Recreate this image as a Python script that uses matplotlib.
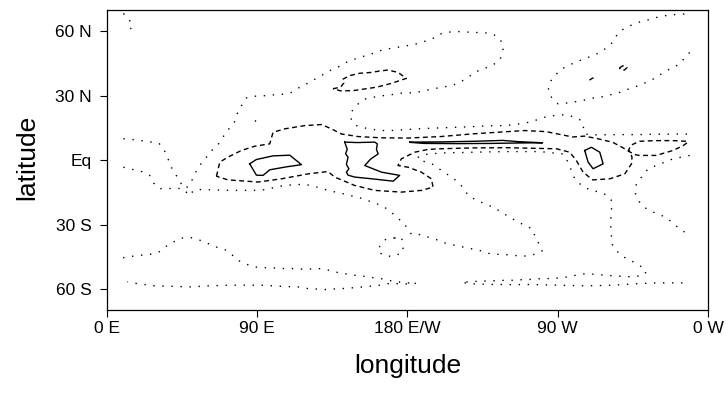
import matplotlib as mpl
mpl.use('Agg')
import matplotlib.pyplot as plt

plt.rcParams['font.family'] = ['Liberation Sans', 'DejaVu Sans']

# contour lines, (lon, lat) pairs, lon in 0..360 E
# --- lowest level (dotted) ---
dot_norway = [(10, 68.4), (13.8, 65), (15.4, 62), (13, 60.5), (10.5, 59.8)]

dot_warm_north = [(10, 10), (15.8, 9.6), (20.8, 9.1), (26.3, 8.5), (31.3, 7.9), (34.7, 4.2),
                  (36.7, 0.6), (38.7, -3.3), (41, -6.4), (43.7, -9.5), (45.5, -12.6), (47.5, -13),
                  (50.3, -11), (51.6, -8.2), (53.7, -5), (56.7, -1.4), (59.7, 1.4), (63, 4.6),
                  (67, 7.6), (70, 11.2), (73, 14.4), (76.4, 17.6), (78, 21.5), (80.6, 25.3),
                  (83.6, 29), (88.6, 29.8), (94, 30), (99.5, 30.4), (105, 30.7), (110, 31.3),
                  (114.4, 33.5), (119, 35.3), (127.5, 39), (133.5, 41.7), (138.3, 43.3),
                  (143.5, 45.6), (148.5, 47.1), (153.3, 48.3), (158.5, 49.5), (163.5, 51),
                  (168, 51.8), (174, 52.6), (179.4, 53.3), (184.4, 54), (189.4, 55.1),
                  (195.4, 56.8), (198, 58.4), (203, 59.5), (208.7, 60), (214, 59.8),
                  (219.8, 59.5), (225, 59.5), (230.3, 59), (234.3, 57.5), (237.3, 54.1),
                  (237.3, 51), (235.3, 46.4), (230.3, 44), (225.3, 42.5), (220.4, 41),
                  (216.4, 38.6), (211.4, 36.3), (206.4, 34.7), (200.4, 34), (195.4, 33.2),
                  (190.4, 32.4), (185.4, 31.6), (179.4, 31.2), (175, 31.2), (170.5, 30.5),
                  (164.8, 30), (159.5, 29.3), (154.5, 28.5), (150.5, 26.2), (148.5, 24.7),
                  (146, 21.9), (146.5, 18.5), (149.5, 16.1), (154.5, 15), (159.5, 14.3),
                  (165.5, 13.8), (170.5, 13.8), (176.4, 14.1), (182.4, 14.4), (188.4, 14.7),
                  (198.4, 15), (208.4, 15.3), (218.4, 15.6), (228.4, 16), (238.3, 16.1),
                  (244.3, 16.6), (253.3, 17.7), (262.3, 20), (268.3, 20.8), (274.3, 21.2),
                  (279.2, 20.3), (284.2, 18.5), (285.2, 16.1), (286.2, 12.2), (290.2, 11.8),
                  (298, 11.8), (308, 11.9), (318, 11.9), (328, 12.1), (338, 12.1), (349, 12.2)]

dot_warm_south = [(10, -3.3), (15.4, -4.3), (20.8, -5.3), (25.7, -7.1), (28.1, -10.7),
                  (31.7, -13.3), (36.7, -13.3), (41.7, -13), (46.5, -13.6), (49, -16.5),
                  (52.7, -13.8), (58, -13.7), (63.5, -13.8), (69, -14), (74.6, -14.1),
                  (80, -14.1), (85, -14.1), (90.4, -14.1), (95.8, -13.7), (101, -12.6),
                  (106.6, -11.8), (111.4, -11.5), (117.4, -11.3), (122.6, -11.8), (132.5, -14.1),
                  (143.5, -16), (153.5, -18), (159.5, -19.8), (164.5, -21.1), (168.4, -23),
                  (172.5, -25.7), (176.4, -28.5), (180, -31.5), (182.4, -34.6), (187.4, -34.7),
                  (193.4, -36.1), (198.4, -37.3), (203.4, -38.9), (208.4, -39.7), (213.4, -40.5),
                  (218.4, -41.3), (224.3, -42.3), (229.3, -43.6), (234.3, -43.9), (240.3, -44.1),
                  (245.3, -44.5), (250.3, -44.7), (256.3, -43.9), (260.7, -42.3), (259.3, -39.7),
                  (256.7, -36.1), (254.7, -32), (250.3, -30.4), (245.3, -28.4), (240.3, -26.2),
                  (236.3, -24.2), (231.3, -21.9), (226.3, -20.3), (221.3, -18.7), (216.4, -16.4),
                  (213.4, -12.9), (210.4, -10.2), (206.4, -7.9), (200.4, -4.8), (194.4, -1.5),
                  (188.4, -0.3), (186, 1.2), (190, 2.6), (199.4, 3.3), (219.4, 3.7), (239.4, 4),
                  (259.3, 4), (273.2, 2.9), (276.2, -0.9), (280.2, -8.7), (285.2, -12.4),
                  (290.3, -14.1), (295.2, -14.9), (299.8, -16.4), (302.6, -19.2), (302.2, -23.1),
                  (301.8, -27.3), (301.8, -31.4), (302.2, -35.4), (302.6, -39.2), (305.6, -42.5),
                  (308.6, -44.8), (313.6, -46.7), (318.2, -48.7), (322.6, -51), (322.6, -52.9),
                  (319, -54), (314, -54.4), (305, -54), (298, -53.6), (292, -53.2), (287, -52.9),
                  (281.2, -53.6), (276.3, -54.4), (271.3, -54.9), (266.3, -55.2), (260.3, -55.2),
                  (255.3, -55.6), (250.3, -55.6), (244.3, -56), (239.3, -56), (228, -56.3),
                  (218, -56.6), (212.5, -57), (218, -57.6), (228, -57.9), (239.3, -58),
                  (255.3, -58), (271.3, -58.3), (287.2, -58.6), (303.2, -58.3), (319.2, -57.5),
                  (331.1, -57.2), (347, -57.2), (349, -57.2)]

dot_s_atlantic = [(349, 2.2), (339, 0.6), (324.2, -4), (320.2, -7.9), (317.1, -11),
                  (316.6, -15.6), (319, -19.5), (322.2, -22.2), (327.2, -24.2), (332.1, -25.7),
                  (336.5, -27.7), (341.1, -30.8), (345, -33), (349.5, -35.3)]

dot_s_indian = [(9.8, -45.5), (15.4, -44.8), (20.8, -44.3), (26.1, -43.9), (31.3, -42.8),
                (35.7, -40.1), (40.1, -38.1), (45.1, -36.3), (50.3, -36.1), (55.7, -37.3),
                (60.7, -38.9), (65.7, -40.5), (70.7, -41.7), (74.6, -43.8), (78.6, -46.7),
                (83.6, -48.5), (88.6, -49.8), (94.2, -50.1), (99.6, -50.2), (104.6, -50.5),
                (110.6, -50.5), (116.6, -50.8), (120.6, -50.8), (126.6, -50.5), (131.5, -51),
                (136.5, -52.1), (142.5, -52.9), (147.5, -53.6), (153.5, -54.1), (158.5, -54.7),
                (163.5, -55.1), (168.4, -56), (174.4, -56.7), (179.4, -57.2), (185.4, -57.4),
                (179.4, -57.7), (174.4, -57.6), (168.4, -57.6), (163.5, -58.3), (153.5, -59.1),
                (142.5, -59.8), (130.5, -60.3), (119.6, -59.8), (114.6, -59.1), (103.6, -58.8),
                (92.6, -58.3), (82.6, -58.3), (72.6, -58.3), (60.7, -58.6), (50.7, -59.1),
                (38.7, -58.8), (28.7, -58.6), (22.8, -58), (17.8, -57.5), (12.4, -56.7)]

dot_new_zealand = [(172.4, -36.3), (167.4, -36.6), (163.5, -40.1), (162.5, -42.8), (167.4, -44.8),
                   (172.5, -44.7), (177.4, -42.8), (177.4, -39.2), (176.4, -35.8), (172.4, -36.3)]

dot_n_atlantic = [(349, 50.2), (346.1, 47.9), (343.1, 44.8), (337.1, 42.5), (332.1, 40.2),
                  (327.2, 37.8), (323.2, 36.3), (318.2, 34.7), (312.6, 33.2), (307.2, 31.6),
                  (302.2, 30.6), (297.2, 29.6), (291.7, 29), (286.2, 28), (281.2, 27.3),
                  (276.3, 26.7), (270.3, 26.2), (266.3, 29.3), (264.3, 32.4), (265.3, 36.3),
                  (268.3, 39.4), (272.3, 42.5), (278.2, 44.8), (283.2, 46.4), (288.2, 47.9),
                  (293.2, 49.4), (298.2, 51.8), (302.2, 54.4), (305.2, 58), (308.2, 60.6),
                  (313.2, 62.6), (318.2, 64.2), (323.7, 65.3), (329.1, 66.5), (334.1, 67.3),
                  (339.1, 67.8), (344.1, 68.1), (349, 68.1)]

dot_tibet = [(88.8, 18), (89.6, 18.8), (90.4, 18), (89.6, 17.4), (88.8, 18)]

# --- middle level (dashed) ---
dash_tropics = [(65.7, -7.5), (67.7, -0.9), (72.6, 1.4), (80.6, 4.5), (88.6, 6.5), (97.6, 7.6),
                (99.6, 13), (106.6, 14.6), (118.6, 16.1), (128.6, 16.6), (134.5, 14.6),
                (140.5, 12.2), (150.5, 11), (164.5, 10.4), (180, 10.3), (200, 11), (220, 12.3),
                (240, 13.3), (250, 13.8), (263, 13.3), (279, 10.8), (286, 11.2), (294, 10),
                (303, 8.3), (309, 5.8), (312, 4.4), (316, 2.6), (319, 2.2), (329, 2.2),
                (339, 4.5), (345, 6.7), (348, 8.4), (347, 8.8), (339, 9.1), (329, 9.1),
                (319, 8.8), (314, 7), (312.5, 4.8), (314.5, 1.5), (314.2, -1.7), (310.2, -6.4),
                (301.2, -8.7), (291, -9.2), (285.2, -5.6), (281.2, -0.2), (277.2, 3.7),
                (269.3, 5.3), (239.4, 5.8), (219, 5.7), (199.4, 5.3), (192.4, 5), (184.4, 3.7),
                (176.4, 0.6), (174.4, -2.5), (180.4, -3.3), (188.4, -5.6), (194.4, -8.7),
                (195.4, -12.6), (188.4, -14.1), (176.4, -14.9), (160.5, -14.1), (148.5, -11.8),
                (136.5, -7.9), (132.5, -5.3), (120.6, -6.4), (104.6, -8.7), (90.6, -10.2),
                (72.6, -9.2), (65.7, -7.5)]

dash_n_pacific = [(135.5, 33.3), (140, 34), (142, 36), (141.5, 37.8), (145.5, 39.4), (151.5, 40.5),
                  (158.5, 40.9), (163, 41.5), (168.4, 42), (174.4, 40.9), (179.4, 38.1),
                  (175, 37), (170.5, 35.8), (161.5, 34), (154.5, 33.2), (147.5, 32.4),
                  (140, 32.3), (135.5, 33.3)]

dash_n_atl_arc = [(289, 37.3), (291, 38.3), (293, 37.5)]

dash_n_atl_oval = [(307, 43), (309, 44), (311.5, 43.2), (310, 42), (307.5, 42.3), (307, 43)]

# --- highest level (solid) ---
solid_indian = [(85.6, -1.7), (89.6, 0.3), (99.6, 2), (109.6, 2.3), (116.6, -2.1), (107, -3.2),
                (97.6, -4.5), (93.6, -7.1), (89.6, -7), (85.6, -1.7)]

solid_maritime = [(142.5, 8.4), (144, 5), (143, 3), (144.5, 1.4), (143.5, -2), (145, -4),
                  (143.5, -5.6), (144.5, -7), (148.5, -7.9), (160, -8.8), (171.5, -9.8),
                  (175.4, -7.1), (164.5, -5.6), (154.5, -2.5), (158, 0.5), (162.5, 2.9),
                  (161.5, 5), (162, 7.6), (160.5, 8.4), (150, 8.2), (142.5, 8.4)]

solid_pacific = [(181.4, 8.4), (200, 8.5), (220, 8.8), (237, 9.2), (247, 8.6), (261, 8.1),
                 (247, 8.0), (230, 7.8), (210, 7.7), (190, 7.8), (181.4, 8.3)]

solid_panama = [(286.2, 4.5), (290.2, 6), (295.2, 3.7), (297.2, -1.7), (291.2, -4),
                (288.2, -0.9), (286.2, 4.5)]

dotted = [dot_norway, dot_warm_north, dot_warm_south, dot_s_atlantic, dot_s_indian,
          dot_new_zealand, dot_n_atlantic, dot_tibet]
dashed = [dash_tropics, dash_n_pacific, dash_n_atl_arc, dash_n_atl_oval]
solid = [solid_indian, solid_maritime, solid_pacific, solid_panama]

lon_ticks = [0, 90, 180, 270, 360]
lon_labels = ['0 E', '90 E', '180 E/W', '90 W', '0 W']
lat_ticks = [-60, -30, 0, 30, 60]
lat_labels = ['60 S', '30 S', 'Eq', '30 N', '60 N']

fig = plt.figure(figsize=(7.26, 3.93), dpi=100)
ax = fig.add_axes([0.147, 0.2104, 0.8282, 0.7642])

for line in dotted:
    x, y = zip(*line)
    ax.plot(x, y, color='black', lw=1.0, linestyle=(0, (1, 5.5)))
for line in dashed:
    x, y = zip(*line)
    ax.plot(x, y, color='black', lw=1.0, linestyle=(0, (3.5, 2.5)))
for line in solid:
    x, y = zip(*line)
    ax.plot(x, y, color='black', lw=1.0)

ax.set_xlim(0, 360)
ax.set_ylim(-70, 70)
ax.set_xticks(lon_ticks)
ax.set_xticklabels(lon_labels)
ax.set_yticks(lat_ticks)
ax.set_yticklabels(lat_labels)
ax.tick_params(direction='out', length=5, width=0.8, labelsize=12.5)
ax.tick_params(axis='x', pad=2.5)
ax.tick_params(axis='y', pad=6)
for s in ax.spines.values():
    s.set_linewidth(0.9)

ax.set_xlabel('longitude', fontsize=19, va='center')
ax.set_ylabel('latitude', fontsize=19, va='center')
ax.xaxis.set_label_coords(0.5, -0.185)
ax.yaxis.set_label_coords(-0.1325, 0.51)

plt.savefig('out.png', dpi=100)
